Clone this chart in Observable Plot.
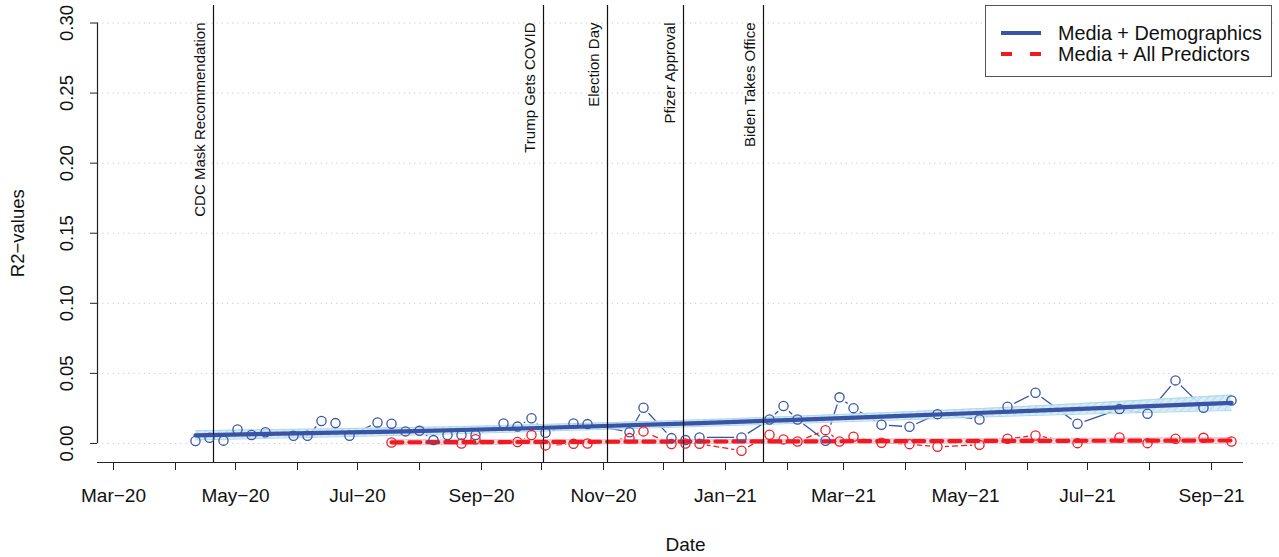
<!DOCTYPE html>
<html><head><meta charset="utf-8">
<script src="https://cdn.jsdelivr.net/npm/d3@7"></script>
<script src="https://cdn.jsdelivr.net/npm/@observablehq/plot@0.6"></script>
<style>
body{margin:0;background:#fff;}
#wrap{position:relative;width:1279px;height:557px;font-family:"Liberation Sans",Arial,Helvetica,sans-serif;color:#111;}
#legend{position:absolute;left:985px;top:5px;width:287px;height:72px;border:1px solid #555;background:#fff;box-sizing:border-box;}
#legend .row{position:absolute;left:14px;height:22px;display:flex;align-items:center;font-size:19.8px;white-space:nowrap;}
#legend svg{margin-right:16px;}
</style></head>
<body><div id="wrap"></div>
<script>
// ---- data ----
const blueDates = ["2020-04-11","2020-04-18","2020-04-25","2020-05-02","2020-05-09","2020-05-16","2020-05-30","2020-06-06","2020-06-13","2020-06-20","2020-06-27","2020-07-11","2020-07-18","2020-07-25","2020-08-01","2020-08-08","2020-08-15","2020-08-22","2020-08-29","2020-09-12","2020-09-19","2020-09-26","2020-10-03","2020-10-17","2020-10-24","2020-11-14","2020-11-21","2020-12-05","2020-12-12","2020-12-19","2021-01-09","2021-01-23","2021-01-30","2021-02-06","2021-02-20","2021-02-27","2021-03-06","2021-03-20","2021-04-03","2021-04-17","2021-05-08","2021-05-22","2021-06-05","2021-06-26","2021-07-17","2021-07-31","2021-08-14","2021-08-28","2021-09-11"];
const blueValues = [0.0017,0.0040,0.0020,0.0100,0.0060,0.0080,0.0055,0.0055,0.0160,0.0145,0.0055,0.0150,0.0140,0.0086,0.0090,0.0024,0.0060,0.0060,0.0060,0.0143,0.0120,0.0180,0.0076,0.0143,0.0138,0.0080,0.0255,0.0038,0.0024,0.0043,0.0043,0.0171,0.0267,0.0171,0.0019,0.0329,0.0252,0.0133,0.0119,0.0209,0.0171,0.0262,0.0362,0.0140,0.0245,0.0212,0.0450,0.0255,0.0307];

const redDates = ["2020-07-18","2020-08-22","2020-08-29","2020-09-19","2020-09-26","2020-10-03","2020-10-17","2020-10-24","2020-11-14","2020-11-21","2020-12-05","2020-12-12","2020-12-19","2021-01-09","2021-01-23","2021-01-30","2021-02-06","2021-02-20","2021-02-27","2021-03-06","2021-03-20","2021-04-03","2021-04-17","2021-05-08","2021-05-22","2021-06-05","2021-06-26","2021-07-17","2021-07-31","2021-08-14","2021-08-28","2021-09-11"];
const redValues = [0.0007,0.0000,0.0030,0.0010,0.0060,-0.0014,-0.0003,0.0000,0.0038,0.0086,-0.0004,0.0000,-0.0003,-0.0052,0.0062,0.0029,0.0014,0.0095,0.0014,0.0048,0.0005,-0.0005,-0.0024,-0.0010,0.0033,0.0057,0.0002,0.0043,0.0002,0.0033,0.0040,0.0014];

// fitted trends with confidence bands
const blueFitDates = ["2020-04-11","2020-07-25","2020-10-03","2020-12-19","2021-03-27","2021-06-12","2021-09-11"];
const blueFit      = [0.0058,0.0086,0.0112,0.0145,0.0195,0.0238,0.0290];
const blueFitLo    = [0.0025,0.0059,0.0088,0.0121,0.0167,0.0203,0.0235];
const blueFitHi    = [0.0091,0.0113,0.0136,0.0169,0.0223,0.0273,0.0345];

const redFitDates = ["2020-07-18","2021-01-02","2021-09-11"];
const redFit      = [0.0008,0.0014,0.0021];
const redFitLo    = [-0.0010,0.0000,0.0001];
const redFitHi    = [0.0026,0.0028,0.0041];

// events
const eventDates  = ["2020-04-20","2020-10-02","2020-11-03","2020-12-11","2021-01-20"];
const eventLabels = ["CDC Mask Recommendation","Trump Gets COVID","Election Day","Pfizer Approval","Biden Takes Office"];

// axes
const yTicks = [0,0.05,0.10,0.15,0.20,0.25,0.30];
const monthTicks = ["2020-03-01","2020-04-01","2020-05-01","2020-06-01","2020-07-01","2020-08-01","2020-09-01","2020-10-01","2020-11-01","2020-12-01","2021-01-01","2021-02-01","2021-03-01","2021-04-01","2021-05-01","2021-06-01","2021-07-01","2021-08-01","2021-09-01"];
const monthLabels = ["Mar−20","","May−20","","Jul−20","","Sep−20","","Nov−20","","Jan−21","","Mar−21","","May−21","","Jul−21","","Sep−21"];
const seriesNames = ["Media + Demographics","Media + All Predictors"];

// ---- build ----
const parse = d3.utcParse("%Y-%m-%d");
const blue = blueDates.map((d,i)=>({date:parse(d), value:blueValues[i]}));
const red = redDates.map((d,i)=>({date:parse(d), value:redValues[i]}));
const blueTrend = blueFitDates.map((d,i)=>({date:parse(d), fit:blueFit[i], lo:blueFitLo[i], hi:blueFitHi[i]}));
const redTrend = redFitDates.map((d,i)=>({date:parse(d), fit:redFit[i], lo:redFitLo[i], hi:redFitHi[i]}));
const events = eventDates.map((d,i)=>({date:parse(d), label:eventLabels[i]}));
const ticks = monthTicks.map(parse);
const labelMap = new Map(ticks.map((d,i)=>[+d, monthLabels[i]]));

const BLUE = "#3a53a4", RED = "#ed1c24";
const xDomain = [parse("2020-02-22"), parse("2021-10-02")];
const axisEnd = parse("2021-09-17");
const yDomain = [-0.0136, 0.3125];

const chart = Plot.plot({
  width: 1279, height: 557,
  marginLeft: 97, marginRight: 6, marginTop: 5, marginBottom: 95,
  x: {type: "utc", domain: xDomain},
  y: {domain: yDomain},
  style: {fontFamily: '"Liberation Sans", Arial, Helvetica, sans-serif', fontSize: "18px", background: "white", color: "#111", overflow: "visible"},
  marks: [
    Plot.ruleY(yTicks, {stroke: "#c8c8c8", strokeDasharray: "1.2,4", strokeWidth: 1}),
    Plot.line(blue, {x: "date", y: "value", stroke: BLUE, strokeWidth: 1.3}),
    Plot.line(red, {x: "date", y: "value", stroke: RED, strokeWidth: 1.3, strokeDasharray: "5,4"}),
    Plot.dot(blue.concat(red), {x: "date", y: "value", r: 7.5, fill: "white", stroke: "none"}),
    Plot.areaY(blueTrend, {x: "date", y1: "lo", y2: "hi", curve: "natural", fill: "url(#hatchBlue)", fillOpacity: 0.9}),
    Plot.line(blueTrend, {x: "date", y: "lo", curve: "natural", stroke: "#add8ec", strokeWidth: 1}),
    Plot.line(blueTrend, {x: "date", y: "hi", curve: "natural", stroke: "#add8ec", strokeWidth: 1}),
    Plot.areaY(redTrend, {x: "date", y1: "lo", y2: "hi", curve: "natural", fill: "url(#hatchRed)", fillOpacity: 0.9}),
    Plot.line(redTrend, {x: "date", y: "lo", curve: "natural", stroke: "#f7b9c1", strokeWidth: 1}),
    Plot.line(redTrend, {x: "date", y: "hi", curve: "natural", stroke: "#f7b9c1", strokeWidth: 1}),
    Plot.line(blueTrend, {x: "date", y: "fit", curve: "natural", stroke: BLUE, strokeWidth: 4.2}),
    Plot.line(redTrend, {x: "date", y: "fit", curve: "natural", stroke: RED, strokeWidth: 4.2, strokeDasharray: "11,7"}),
    Plot.ruleX(events, {x: "date", stroke: "#111", strokeWidth: 1.2}),
    Plot.text(events, {x: "date", frameAnchor: "top", dy: 17, dx: -19, text: "label", rotate: -90, textAnchor: "end", fontSize: 15, fill: "#111"}),
    Plot.dot(blue, {x: "date", y: "value", r: 4.6, stroke: BLUE, strokeWidth: 1.3, fill: "none"}),
    Plot.dot(red, {x: "date", y: "value", r: 4.6, stroke: RED, strokeWidth: 1.3, fill: "none"}),
    // axes
    Plot.ruleX([xDomain[0]], {y1: 0, y2: 0.30, stroke: "#222", strokeWidth: 1.2}),
    Plot.axisY(yTicks, {tickFormat: d3.format(".2f"), tickSize: 7, tickRotate: -90, tickPadding: 18, fontSize: 18.5, label: null, stroke: "#222"}),
    Plot.text(["R2−values"], {x: xDomain[0], y: 0.15, rotate: -90, dx: -79, fontSize: 18.5, fill: "#111"}),
    Plot.ruleY([yDomain[0]], {x1: xDomain[0], x2: axisEnd, stroke: "#222", strokeWidth: 1.2}),
    Plot.axisX(ticks, {tickFormat: d => labelMap.get(+d) ?? "", tickSize: 8, tickPadding: 18, fontSize: 19, label: null, stroke: "#222"}),
    Plot.text(["Date"], {frameAnchor: "bottom", dy: 88, fontSize: 19, fill: "#111"})
  ]
});

d3.select(chart).insert("defs", ":first-child").html(
  '<pattern id="hatchBlue" patternUnits="userSpaceOnUse" width="5" height="5" patternTransform="rotate(45)">' +
  '<rect width="5" height="5" fill="#d2ebf6"/><line x1="0" y1="0" x2="0" y2="5" stroke="#a8d6ec" stroke-width="2"/></pattern>' +
  '<pattern id="hatchRed" patternUnits="userSpaceOnUse" width="5" height="5" patternTransform="rotate(45)">' +
  '<rect width="5" height="5" fill="#fde3e7"/><line x1="0" y1="0" x2="0" y2="5" stroke="#f7bcc5" stroke-width="2"/></pattern>'
);

const wrap = document.getElementById("wrap");
wrap.appendChild(chart);

const legend = document.createElement("div");
legend.id = "legend";
legend.innerHTML =
  '<div class="row" style="top:16px"><svg width="42" height="10"><line x1="1" y1="5" x2="41" y2="5" stroke="' + BLUE + '" stroke-width="4"/></svg><span>' + seriesNames[0] + '</span></div>' +
  '<div class="row" style="top:37px"><svg width="42" height="10"><line x1="1" y1="5" x2="41" y2="5" stroke="' + RED + '" stroke-width="4" stroke-dasharray="11,18"/></svg><span>' + seriesNames[1] + '</span></div>';
wrap.appendChild(legend);
</script>
</body></html>
